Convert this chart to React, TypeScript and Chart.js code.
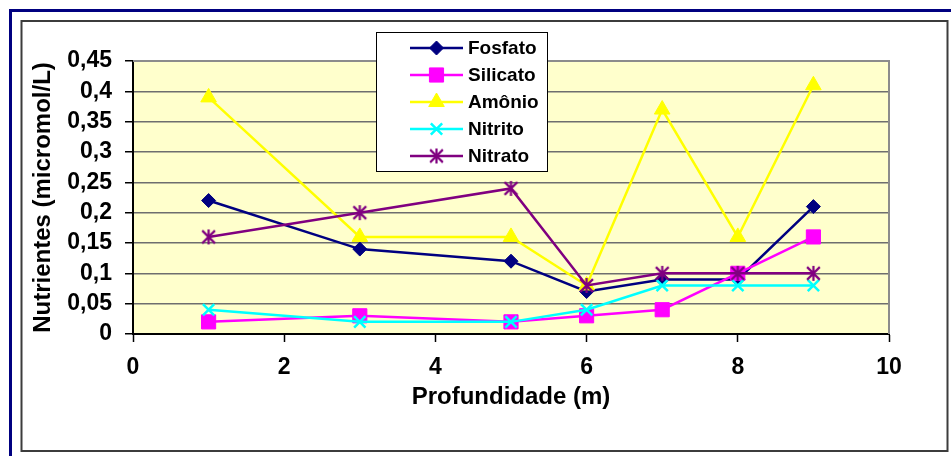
import React, { useEffect, useRef } from 'react';
import { Chart, registerables } from 'chart.js';
import { drawPoint } from 'chart.js/helpers';

Chart.register(...registerables);

// Sampling depths (m) and nutrient concentrations (micromol/L)
const depths = [1, 3, 5, 6, 7, 8, 9];
const fosfato = [0.22, 0.14, 0.12, 0.07, 0.09, 0.09, 0.21];
const silicato = [0.02, 0.03, 0.02, 0.03, 0.04, 0.1, 0.16];
const amonio = [0.39, 0.16, 0.16, 0.08, 0.37, 0.16, 0.41];
const nitrito = [0.04, 0.02, 0.02, 0.04, 0.08, 0.08, 0.08];
const nitrato = [0.16, 0.2, 0.24, 0.08, 0.1, 0.1, 0.1];

const yTickLabels = ['0', '0,05', '0,1', '0,15', '0,2', '0,25', '0,3', '0,35', '0,4', '0,45'];
const xTickLabels = ['0', '2', '4', '6', '8', '10'];

const FONT = '"Liberation Sans", Arial, sans-serif';

// Asterisk marker: an X crossed by a vertical stroke
function makeAsterisk(color: string, size: number) {
  const c = document.createElement('canvas');
  c.width = size;
  c.height = size;
  const g = c.getContext('2d')!;
  g.strokeStyle = color;
  g.lineWidth = 2.2;
  const m = size / 2;
  const r = size / 2 - 1;
  g.beginPath();
  g.moveTo(m, m - r);
  g.lineTo(m, m + r);
  g.moveTo(m - r * 0.85, m - r * 0.85);
  g.lineTo(m + r * 0.85, m + r * 0.85);
  g.moveTo(m + r * 0.85, m - r * 0.85);
  g.lineTo(m - r * 0.85, m + r * 0.85);
  g.stroke();
  return c;
}

const toPoints = (ys: number[]) => depths.map((x, i) => ({ x, y: ys[i] }));

const framePlugin = {
  id: 'frame',
  beforeDraw(chart: any) {
    const { ctx, chartArea: a, width, height } = chart;
    ctx.save();
    ctx.fillStyle = '#ffffff';
    ctx.fillRect(0, 0, width, height);
    ctx.strokeStyle = '#000080';
    ctx.lineWidth = 3;
    ctx.strokeRect(10.5, 10.5, width + 10, height + 10);
    ctx.strokeStyle = '#3c3c3c';
    ctx.lineWidth = 2;
    ctx.strokeRect(21.5, 21, 926, 430);
    ctx.fillStyle = '#FFFFCC';
    ctx.fillRect(a.left, a.top, a.right - a.left, a.bottom - a.top);
    ctx.restore();
  },
  beforeDatasetsDraw(chart: any) {
    const { ctx, chartArea: a } = chart;
    ctx.save();
    ctx.strokeStyle = '#8c8c8c';
    ctx.lineWidth = 2;
    ctx.beginPath();
    ctx.moveTo(a.left, a.top);
    ctx.lineTo(a.right, a.top);
    ctx.lineTo(a.right, a.bottom);
    ctx.stroke();
    ctx.restore();
  },
};

const legendPlugin = {
  id: 'boxLegend',
  afterDraw(chart: any) {
    const { ctx } = chart;
    const bx = 376, by = 32, bw = 172, bh = 140;
    ctx.save();
    ctx.fillStyle = '#ffffff';
    ctx.fillRect(bx, by, bw, bh);
    ctx.strokeStyle = '#000000';
    ctx.lineWidth = 1;
    ctx.strokeRect(bx + 0.5, by + 0.5, bw - 1, bh - 1);
    chart.data.datasets.forEach((ds: any, i: number) => {
      const cy = by + 16 + i * 27;
      ctx.strokeStyle = ds.borderColor;
      ctx.lineWidth = ds.borderWidth;
      ctx.beginPath();
      ctx.moveTo(410, cy);
      ctx.lineTo(463, cy);
      ctx.stroke();
      ctx.fillStyle = ds.pointBackgroundColor;
      ctx.strokeStyle = ds.pointBorderColor;
      ctx.lineWidth = ds.pointBorderWidth;
      drawPoint(ctx, { pointStyle: ds.pointStyle, radius: ds.pointRadius, borderWidth: ds.pointBorderWidth, rotation: 0 }, 436.5, cy);
      ctx.fillStyle = '#000000';
      ctx.font = `bold 19px ${FONT}`;
      ctx.textBaseline = 'middle';
      ctx.textAlign = 'left';
      ctx.fillText(ds.label, 468, cy + 1);
    });
    ctx.restore();
  },
};

export default function App() {
  const ref = useRef<HTMLCanvasElement | null>(null);

  useEffect(() => {
    if (!ref.current) return;
    const star = makeAsterisk('#800080', 17);
    const series = (label: string, ys: number[], color: string, style: any, radius: number, bw: number, order: number) => ({
      label,
      data: toPoints(ys),
      borderColor: color,
      backgroundColor: color,
      borderWidth: 2.5,
      pointStyle: style,
      pointRadius: radius,
      pointBackgroundColor: color,
      pointBorderColor: color,
      pointBorderWidth: bw,
      showLine: true,
      tension: 0,
      order,
    });

    const chart = new Chart(ref.current, {
      type: 'scatter',
      data: {
        datasets: [
          series('Fosfato', fosfato, '#000080', 'rectRot', 7, 1, 5),
          series('Silicato', silicato, '#FF00FF', 'rect', 10, 1, 4),
          series('Amônio', amonio, '#FFFF00', 'triangle', 9, 1, 3),
          series('Nitrito', nitrito, '#00FFFF', 'crossRot', 8, 2.5, 2),
          series('Nitrato', nitrato, '#800080', star, 8, 0, 1),
        ] as any,
      },
      plugins: [framePlugin, legendPlugin],
      options: {
        animation: false,
        responsive: false,
        devicePixelRatio: 1,
        layout: { padding: { left: 23, top: 61, right: 62, bottom: 0 } },
        plugins: { legend: { display: false }, tooltip: { enabled: false } },
        scales: {
          x: {
            type: 'linear',
            min: 0,
            max: 10,
            afterFit: (s: any) => { s.height = 122; },
            ticks: {
              stepSize: 2,
              autoSkip: false,
              maxRotation: 0,
              padding: 12,
              color: '#000',
              font: { family: FONT, size: 23, weight: 'bold' },
              callback: (_v: any, i: number) => xTickLabels[i],
            },
            grid: { drawOnChartArea: false, drawTicks: true, tickLength: 8, tickColor: '#000', tickWidth: 1.5 },
            border: { color: '#000', width: 2 },
            title: {
              display: true,
              text: 'Profundidade (m)',
              color: '#000',
              font: { family: FONT, size: 24, weight: 'bold' },
              padding: { top: 0, bottom: 44 },
            },
          },
          y: {
            type: 'linear',
            min: 0,
            max: 0.45,
            afterFit: (s: any) => { s.width = 110; },
            ticks: {
              stepSize: 0.05,
              autoSkip: false,
              padding: 13,
              color: '#000',
              font: { family: FONT, size: 23, weight: 'bold' },
              callback: (_v: any, i: number) => yTickLabels[i],
            },
            grid: { color: '#6e6e6e', lineWidth: 1.5, drawTicks: true, tickLength: 8, tickColor: '#000', tickWidth: 1.5 },
            border: { color: '#000', width: 2 },
            title: {
              display: true,
              text: 'Nutrientes (micromol/L)',
              color: '#000',
              font: { family: FONT, size: 24, weight: 'bold' },
              padding: { top: 6, bottom: 0 },
            },
          },
        },
      } as any,
    });
    return () => chart.destroy();
  }, []);

  return (
    <div style={{ position: 'absolute', left: 0, top: 0, width: 951, height: 456 }}>
      <canvas ref={ref} width={951} height={456} />
    </div>
  );
}
